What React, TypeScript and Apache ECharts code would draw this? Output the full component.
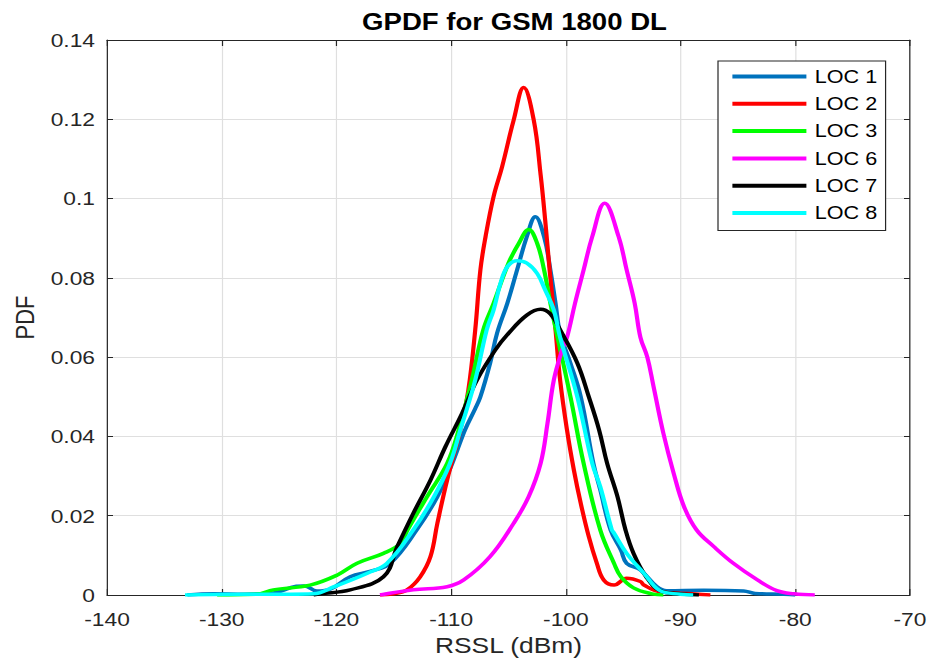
import React, { useEffect, useRef } from "react";
import * as echarts from "echarts";

const title = "GPDF for GSM 1800 DL";
const xName = "RSSL (dBm)";
const yName = "PDF";
const seriesNames = ["LOC 1", "LOC 2", "LOC 3", "LOC 6", "LOC 7", "LOC 8"];
const seriesColors = ["#0072BD", "#FF0000", "#00FF00", "#FF00FF", "#000000", "#00FFFF"];

const loc1: [number, number][] = [
  [-133.0, 0], [-130.7, 0.0003], [-128, 0.0002], [-125.5, 0.0005], [-123.5, 0.0022], [-122.8, 0.0023],
  [-121.7, 0.001], [-120.5, 0.0015], [-118.8, 0.0046], [-117, 0.006], [-115.3, 0.008], [-113.0, 0.0164],
  [-111.2, 0.0248], [-109.9, 0.0332], [-108.8, 0.0416], [-107.9, 0.047], [-107.45, 0.05], [-106.6, 0.0585],
  [-106.0, 0.066], [-105.1, 0.0736], [-104.25, 0.082], [-103.4, 0.0904], [-102.66, 0.0954], [-101.9, 0.0904],
  [-101.35, 0.082], [-100.9, 0.0736], [-100.5, 0.066], [-99.6, 0.0585], [-98.7, 0.05], [-97.6, 0.0332],
  [-97.0, 0.0265], [-96.1, 0.0164], [-95.2, 0.0113], [-94.7, 0.008], [-93.5, 0.0063], [-92.05, 0.0021],
  [-91.2, 0.0011], [-88, 0.0012], [-84.5, 0.001], [-83.5, 0.0004], [-81, 0.0002], [-80, 0],
];
const loc2: [number, number][] = [
  [-116.2, 0], [-115, 0.0003], [-113.85, 0.0013], [-112.7, 0.0046], [-111.8, 0.0097], [-111.2, 0.0181],
  [-110.35, 0.029], [-109.2, 0.0416], [-108.5, 0.0517], [-107.9, 0.0669], [-107.45, 0.082], [-107.0, 0.0904],
  [-106.3, 0.1005], [-105.56, 0.108], [-104.55, 0.1198], [-103.68, 0.128], [-102.8, 0.1198], [-102.2, 0.106],
  [-101.8, 0.0945], [-101.4, 0.0815], [-100.9, 0.0669], [-100.5, 0.0542], [-99.9, 0.0416], [-99.3, 0.0315],
  [-98.7, 0.0231], [-98.0, 0.0147], [-97.3, 0.008], [-96.7, 0.0038], [-95.8, 0.0025], [-94.7, 0.0042],
  [-93.5, 0.0034], [-93.2, 0.0025], [-91.8, 0.0008], [-89, 0.0003], [-87.4, 0],
];
const loc3: [number, number][] = [
  [-130.4, 0], [-127, 0.0002], [-125.5, 0.0013], [-122.3, 0.0025], [-119.95, 0.005], [-118.2, 0.008],
  [-115.9, 0.0105], [-114.4, 0.013], [-113.8, 0.0164], [-112.1, 0.0248], [-110.35, 0.0332], [-109.35, 0.0416],
  [-108.2, 0.0542], [-107.2, 0.0669], [-106.3, 0.0736], [-105.0, 0.0837], [-104.1, 0.0887], [-103.24, 0.0922],
  [-102.5, 0.0887], [-101.9, 0.082], [-101.35, 0.0736], [-100.8, 0.066], [-99.6, 0.05], [-98.45, 0.0332],
  [-97.0, 0.0164], [-95.8, 0.008], [-95.2, 0.0046], [-94.1, 0.0018], [-92.5, 0.0003], [-91.5, 0],
];
const loc6: [number, number][] = [
  [-116.2, 0], [-113.3, 0.0013], [-110.35, 0.0021], [-108.9, 0.0038], [-106.6, 0.0097], [-104.55, 0.0181],
  [-103.24, 0.0248], [-102.2, 0.0332], [-101.6, 0.0433], [-101.05, 0.0542], [-100.33, 0.0618], [-99.9, 0.065],
  [-99.2, 0.0736], [-98.45, 0.082], [-97.7, 0.0904], [-96.62, 0.0988], [-95.4, 0.0904], [-94.7, 0.082],
  [-94.0, 0.0736], [-93.5, 0.065], [-92.9, 0.06], [-92.35, 0.0525], [-91.5, 0.0408], [-90.6, 0.0307],
  [-89.7, 0.0223], [-88.6, 0.0164], [-87.1, 0.0122], [-85.4, 0.008], [-83.3, 0.0038], [-81.6, 0.0011],
  [-80.1, 0.0003], [-78.3, 0],
];
const loc7: [number, number][] = [
  [-122, 0], [-121.4, 0.0003], [-118.8, 0.0013], [-115.9, 0.0046], [-114.7, 0.0122], [-113.3, 0.0206],
  [-111.8, 0.029], [-110.5, 0.0374], [-109.05, 0.0458], [-107.75, 0.0542], [-106.15, 0.0618], [-105.0, 0.066],
  [-103.4, 0.0706], [-102.2, 0.0721], [-101.35, 0.0709], [-100.5, 0.0669], [-99.0, 0.0585], [-98.0, 0.05],
  [-97.1, 0.0416], [-96.4, 0.0332], [-95.5, 0.0248], [-94.8, 0.0164], [-94.1, 0.0105], [-93.0, 0.0046],
  [-91.8, 0.0011], [-90, 0.0003], [-88.4, 0],
];
const loc8: [number, number][] = [
  [-133.2, 0], [-128, 0.0002], [-124, 0.0002], [-122, 0.0003], [-120.2, 0.0021], [-117.3, 0.0055],
  [-115.6, 0.008], [-113.3, 0.0164], [-111.5, 0.0248], [-110.1, 0.0332], [-109.2, 0.0416], [-107.9, 0.0542],
  [-106.9, 0.0669], [-106.3, 0.0719], [-105.7, 0.0786], [-105.1, 0.0828], [-104.25, 0.0843], [-103.4, 0.0837],
  [-102.5, 0.0811], [-101.8, 0.0769], [-101.05, 0.0719], [-100.5, 0.065], [-99.0, 0.05], [-97.7, 0.0332],
  [-97.0, 0.0273], [-96.0, 0.0165], [-95.8, 0.0156], [-94.7, 0.0105], [-93.2, 0.0055], [-91.8, 0.0011],
  [-90, 0.0002], [-88.9, 0],
];
const seriesData = [loc1, loc2, loc3, loc6, loc7, loc8];

const xMin = -140;
const xMax = -70;
const xStep = 10;
const yMin = 0;
const yMax = 0.14;
const yStep = 0.02;

const FONT = "'Liberation Sans', Arial, Helvetica, sans-serif";
const AXIS_COLOR = "#262626";
const GRID_COLOR = "#dfdfdf";

// The reference figure is horizontally stretched; render narrower and stretch in x.
const PAGE_W = 932;
const PAGE_H = 668;
const INNER_W = 777;
const SX = PAGE_W / INNER_W;
const px = (v: number) => v / SX;

export default function App() {
  const ref = useRef<HTMLDivElement>(null);
  useEffect(() => {
    if (!ref.current) return;
    const chart = echarts.init(ref.current, undefined, { renderer: "svg" });
    const grid = { left: px(107), right: px(22), top: 40, bottom: 73 };
    const baseX = { type: "value" as const, min: xMin, max: xMax, interval: xStep };
    const baseY = { type: "value" as const, min: yMin, max: yMax, interval: yStep };
    chart.setOption({
      animation: false,
      backgroundColor: "#ffffff",
      title: {
        text: title,
        left: px(508.5),
        top: 5,
        textAlign: "center",
        textStyle: { fontFamily: FONT, fontSize: 23, fontWeight: "bold", color: "#000" },
      },
      grid,
      legend: {
        orient: "vertical",
        left: px(718),
        top: 61,
        padding: [6, 7, 8, 12],
        icon: "rect",
        itemWidth: px(74),
        itemHeight: 4,
        itemGap: 8.3,
        borderColor: AXIS_COLOR,
        borderWidth: 1,
        backgroundColor: "#ffffff",
        data: seriesNames,
        textStyle: { fontFamily: FONT, fontSize: 18, lineHeight: 19, color: "#000", padding: [0, 0, 0, 2] },
      },
      xAxis: [
        {
          ...baseX,
          position: "bottom",
          name: xName,
          nameLocation: "middle",
          nameGap: 37,
          nameTextStyle: { fontFamily: FONT, fontSize: 22, color: AXIS_COLOR },
          axisLine: { show: true, onZero: false, lineStyle: { color: AXIS_COLOR, width: 1 } },
          axisTick: { show: true, inside: true, length: 6, lineStyle: { color: AXIS_COLOR } },
          axisLabel: { fontFamily: FONT, fontSize: 19, color: AXIS_COLOR, margin: 15 },
          splitLine: { show: true, lineStyle: { color: GRID_COLOR, width: 1 } },
        },
        {
          ...baseX,
          position: "top",
          axisLine: { show: true, onZero: false, lineStyle: { color: AXIS_COLOR, width: 1 } },
          axisTick: { show: true, inside: true, length: 6, lineStyle: { color: AXIS_COLOR } },
          axisLabel: { show: false },
          splitLine: { show: false },
        },
      ],
      yAxis: [
        {
          ...baseY,
          position: "left",
          name: yName,
          nameLocation: "middle",
          nameGap: 56,
          nameTextStyle: { fontFamily: FONT, fontSize: 22, color: AXIS_COLOR },
          axisLine: { show: true, lineStyle: { color: AXIS_COLOR, width: 1 } },
          axisTick: { show: true, inside: true, length: 5, lineStyle: { color: AXIS_COLOR } },
          axisLabel: { fontFamily: FONT, fontSize: 19, color: AXIS_COLOR, margin: px(12) },
          splitLine: { show: true, lineStyle: { color: GRID_COLOR, width: 1 } },
        },
        {
          ...baseY,
          position: "right",
          axisLine: { show: true, lineStyle: { color: AXIS_COLOR, width: 1 } },
          axisTick: { show: true, inside: true, length: 5, lineStyle: { color: AXIS_COLOR } },
          axisLabel: { show: false },
          splitLine: { show: false },
        },
      ],
      series: seriesNames.map((name, i) => ({
        name,
        type: "line",
        xAxisIndex: 0,
        yAxisIndex: 0,
        data: seriesData[i],
        symbol: "none",
        smooth: 0.4,
        color: seriesColors[i],
        lineStyle: { color: seriesColors[i], width: 3.5 },
      })),
    });
    return () => chart.dispose();
  }, []);
  return (
    <div
      style={{
        position: "absolute",
        left: 0,
        top: 0,
        width: PAGE_W,
        height: PAGE_H,
        overflow: "hidden",
        background: "#fff",
      }}
    >
      <div
        ref={ref}
        style={{
          width: INNER_W,
          height: PAGE_H,
          transform: `scaleX(${SX})`,
          transformOrigin: "0 0",
        }}
      />
    </div>
  );
}
